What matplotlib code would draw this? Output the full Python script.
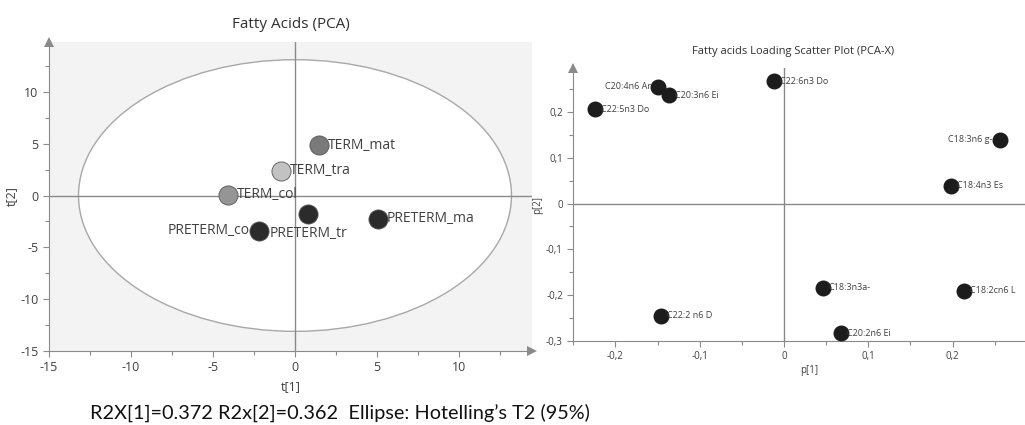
import numpy as np
import matplotlib
matplotlib.use("Agg")
import matplotlib.pyplot as plt
from matplotlib.patches import Ellipse
from matplotlib.ticker import MultipleLocator, FuncFormatter

plt.rcParams['font.family'] = ['Open Sans', 'DejaVu Sans']
plt.rcParams['axes.unicode_minus'] = False

# scores (t[1], t[2]) per group
groupes = ['TERM_mat', 'TERM_tra', 'TERM_col', 'PRETERM_co', 'PRETERM_tr', 'PRETERM_ma']
t1 = [1.48, -0.85, -4.07, -2.2, 0.81, 5.04]
t2 = [4.86, 2.4, 0.07, -3.38, -1.77, -2.25]
couleurs = ['#7a7a7a', '#c2c2c2', '#959595', '#2b2b2b', '#2b2b2b', '#2b2b2b']
# decalage du texte en pixels
decal = [(9, 0), (9, 0), (9, 0), (-9, 0), (-39, -20), (9, 0)]
ha_lab = ['left', 'left', 'left', 'right', 'left', 'left']
hotelling = (13.2, 13.1)

# loadings (p[1], p[2])
acides = ['C20:4n6 Ar', 'C20:3n6 Ei', 'C22:5n3 Do', 'C22:6n3 Do', 'C18:3n6 g-',
          'C18:4n3 Es', 'C18:3n3a-', 'C18:2cn6 L', 'C22:2 n6 D', 'C20:2n6 Ei']
p1 = [-0.150, -0.136, -0.224, -0.012, 0.256, 0.198, 0.046, 0.214, -0.146, 0.068]
p2 = [0.255, 0.236, 0.206, 0.267, 0.139, 0.039, -0.184, -0.190, -0.245, -0.283]
cote = ['g', 'd', 'd', 'd', 'g', 'd', 'd', 'd', 'd', 'd']

gris = '#8a8a8a'
texte = '#404040'


def style_axes(ax, taille):
    for s in ['top', 'right']:
        ax.spines[s].set_visible(False)
    for s in ['left', 'bottom']:
        ax.spines[s].set_color(gris)
    ax.tick_params(colors=gris, labelcolor=texte, labelsize=taille, length=4, width=0.8)
    ax.tick_params(which='minor', colors=gris, length=3, width=0.8)
    ax.plot(0, 1, '^', transform=ax.transAxes, clip_on=False, color=gris, ms=7, mew=0)
    ax.plot(1, 0, '>', transform=ax.transAxes, clip_on=False, color=gris, ms=7, mew=0)


def virgule(v, pos):
    # pas d'etiquette au-dela du bord de la figure
    if v > 0.28:
        return ''
    return ('%g' % round(v, 2)).replace('.', ',')


fig = plt.figure(figsize=(10.25, 4.25), dpi=100)

# --- scores ---
ax = fig.add_axes([0.0478, 0.174, 0.4712, 0.727])
ax.set_facecolor('#f3f3f3')
ax.set_xlim(-15, 14.45)
ax.set_ylim(-15, 14.8)
ax.add_patch(Ellipse((0, 0), 2 * hotelling[0], 2 * hotelling[1], facecolor='white',
                     edgecolor='#a8a8a8', lw=1, zorder=1))
ax.axhline(0, color=gris, lw=1, zorder=2)
ax.axvline(0, color=gris, lw=1, zorder=2)
for i in range(len(groupes)):
    ax.scatter(t1[i], t2[i], s=190, color=couleurs[i], edgecolors='#555555',
               linewidths=0.6, zorder=3)
    ax.annotate(groupes[i], (t1[i], t2[i]), xytext=decal[i], textcoords='offset pixels',
                ha=ha_lab[i], va='center', fontsize=10, color=texte, zorder=4)
ax.xaxis.set_major_locator(MultipleLocator(5))
ax.xaxis.set_minor_locator(MultipleLocator(2.5))
ax.yaxis.set_major_locator(MultipleLocator(5))
ax.yaxis.set_minor_locator(MultipleLocator(2.5))
style_axes(ax, 9)
ax.set_xlabel('t[1]', fontsize=9, color=texte, labelpad=4)
ax.set_ylabel('t[2]', fontsize=9, color=texte, labelpad=2)
ax.set_title('Fatty Acids (PCA)', fontsize=11, color='#303030', pad=10)

# --- loadings (axe x coupe par le bord droit) ---
ax2 = fig.add_axes([0.5593, 0.1976, 0.4610, 0.6424])
ax2.set_xlim(-0.25, 0.3105)
ax2.set_ylim(-0.3, 0.296)
ax2.axhline(0, color=gris, lw=1, zorder=1)
ax2.axvline(0, color=gris, lw=1, zorder=1)
ax2.scatter(p1, p2, s=110, color='#1c1c1c', zorder=3)
for i in range(len(acides)):
    if cote[i] == 'g':
        ax2.annotate(acides[i], (p1[i], p2[i]), xytext=(-7, 0), textcoords='offset pixels',
                     ha='right', va='center', fontsize=6.5, color=texte)
    else:
        ax2.annotate(acides[i], (p1[i], p2[i]), xytext=(6, 0), textcoords='offset pixels',
                     ha='left', va='center', fontsize=6.5, color=texte)
ax2.xaxis.set_major_locator(MultipleLocator(0.1))
ax2.xaxis.set_minor_locator(MultipleLocator(0.05))
ax2.yaxis.set_major_locator(MultipleLocator(0.1))
ax2.yaxis.set_minor_locator(MultipleLocator(0.05))
ax2.xaxis.set_major_formatter(FuncFormatter(virgule))
ax2.yaxis.set_major_formatter(FuncFormatter(virgule))
style_axes(ax2, 7)
ax2.set_xlabel('p[1]', fontsize=7, color=texte, labelpad=2)
ax2.set_ylabel('p[2]', fontsize=7, color=texte, labelpad=2)
ax2.set_title('Fatty acids Loading Scatter Plot (PCA-X)', fontsize=8, color='#303030',
              pad=10, x=0.466)

fig.text(0.088, 0.028, 'R2X[1]=0.372 R2x[2]=0.362  Ellipse: Hotelling\u2019s T2 (95%)',
         fontsize=14.3, color='#111111', ha='left', va='center', family=['Lato', 'DejaVu Sans'])

fig.savefig('out.png', dpi=100)
